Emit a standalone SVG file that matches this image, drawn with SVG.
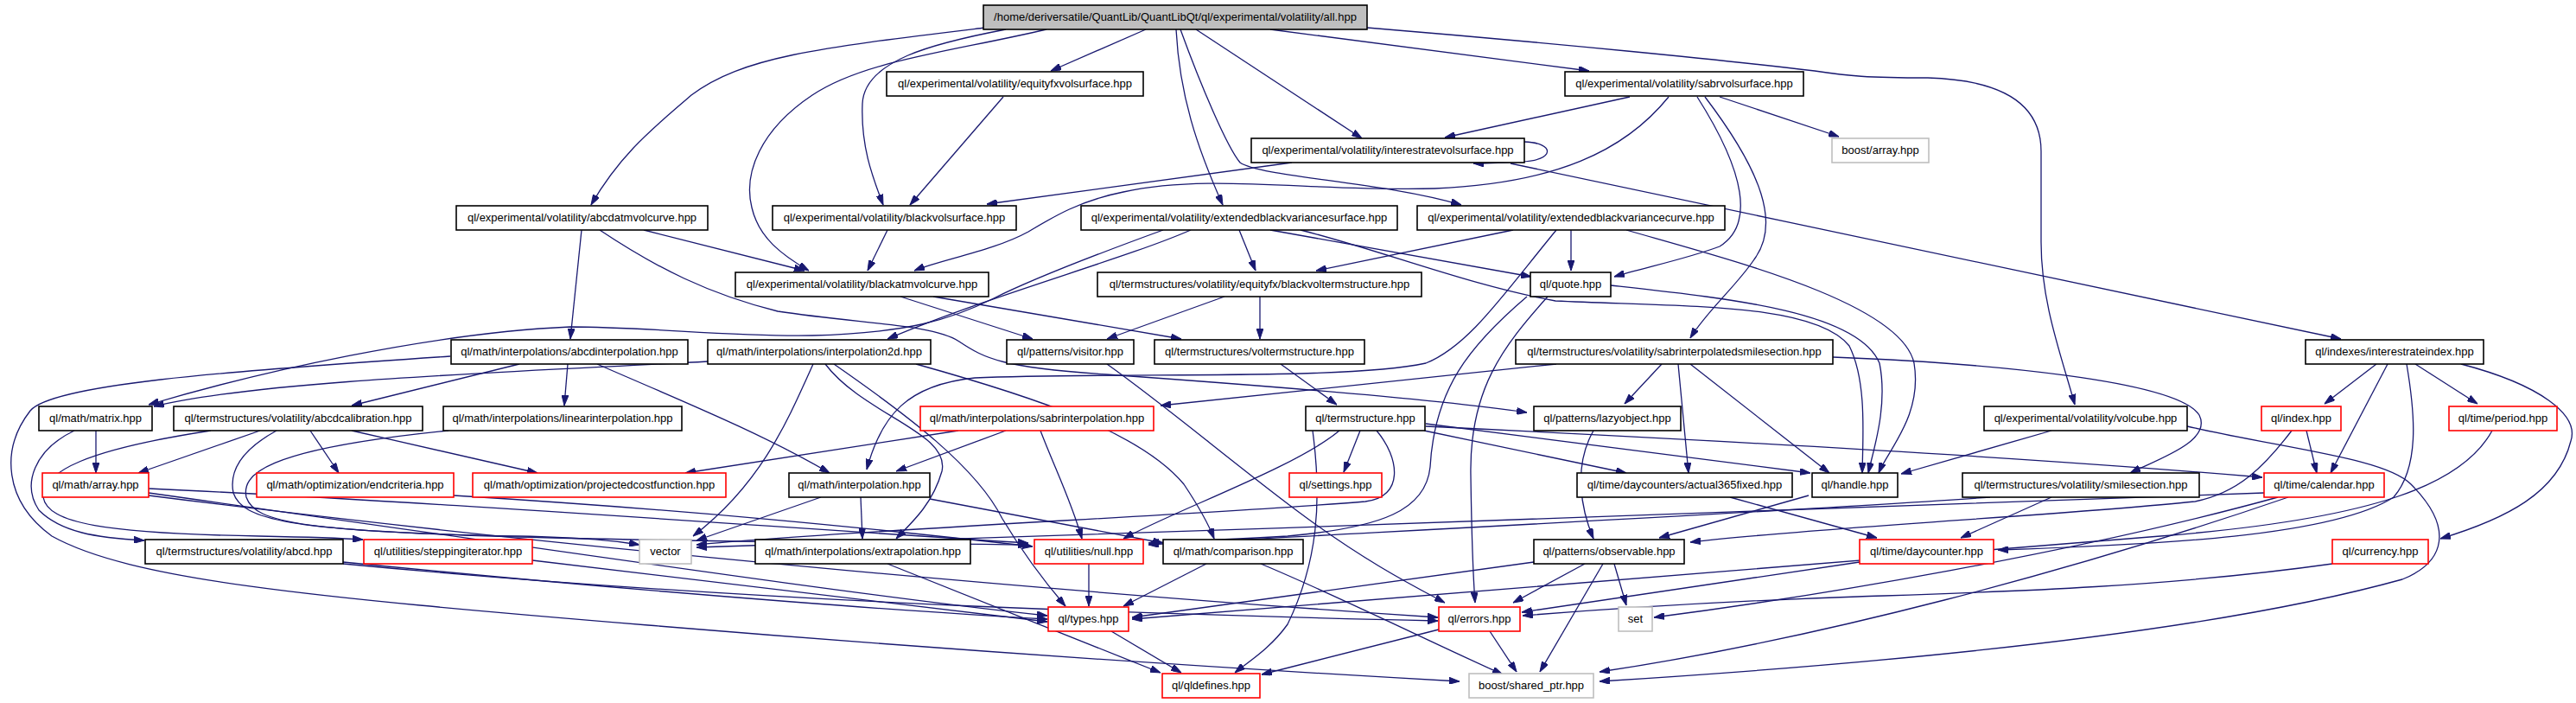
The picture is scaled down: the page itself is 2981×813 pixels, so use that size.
<svg xmlns="http://www.w3.org/2000/svg" width="2981" height="813" viewBox="0 0 2981 813">
<style>
.n rect{fill:#fff;stroke:#000;stroke-width:1.6}
.n.r rect{stroke:#ff0000}
.n.g rect{stroke:#bfbfbf}
.n.root rect{fill:#bfbfbf}
.n text{font-family:"Liberation Sans",Arial,sans-serif;font-size:13px;fill:#000;text-anchor:middle}
.e path{fill:none;stroke:#191970;stroke-width:1.3;marker-end:url(#a)}
</style>
<defs>
<marker id="a" markerWidth="12" markerHeight="8" refX="12" refY="4" orient="auto" markerUnits="userSpaceOnUse"><path d="M0,0 L12,4 L0,8 z" fill="#191970" stroke="#191970" stroke-width="1"/></marker>
</defs>
<rect width="2981" height="813" fill="#fff"/>
<g class="e" id="edges">
<path d="M1140,32 C 950,55 860,65 800,110 C 760,145 720,175 684,237"/>
<path d="M1164,34 C 1080,50 1000,70 998,120 C 996,170 1010,205 1022,237"/>
<path d="M1211,34 C 1100,60 1000,70 940,110 C 880,150 860,200 870,240 C 878,275 905,295 936,313"/>
<path d="M1326,34 L1216,82"/>
<path d="M1361,34 C 1365,110 1385,170 1415,237"/>
<path d="M1384,34 L1576,160"/>
<path d="M1366,34 C 1390,100 1420,170 1435,188 C 1460,205 1600,210 1691,237"/>
<path d="M1470,34 L1839,82"/>
<path d="M1582,32 C 1800,50 2000,70 2100,82 C 2140,88 2160,90 2231,90 C 2300,92 2362,110 2362,175 L2362,280 C 2362,350 2385,410 2401,468"/>
<path d="M1161,112 L1053,237"/>
<path d="M1886,112 L1672,159"/>
<path d="M1931,112 C 1880,175 1800,212 1660,218 C 1520,222 1400,200 1300,222 C 1250,232 1220,250 1190,268 C 1150,290 1090,300 1058,313"/>
<path d="M1964,112 C 2020,200 2030,260 1990,285 C 1950,300 1900,310 1868,320"/>
<path d="M1973,112 C 2040,200 2060,260 2030,300 C 2010,330 1975,360 1956,391"/>
<path d="M1990,112 L2128,158"/>
<path d="M1495,188 L1142,236"/>
<path d="M1764,164 C 1800,165 1800,186 1760,187 C 1740,188 1720,189 1705,189"/>
<path d="M1748,189 L2709,392"/>
<path d="M1027,266 L1004,313"/>
<path d="M1346,266 C 1280,290 1200,320 1150,345 C 1100,370 1050,385 940,388 C 850,390 750,378 660,378 C 500,385 300,430 172,468"/>
<path d="M1378,266 C 1300,300 1150,340 1027,392"/>
<path d="M1434,266 L1453,313"/>
<path d="M1470,266 L1772,320"/>
<path d="M1505,266 C 1600,290 1700,330 1800,348 C 1950,355 2100,350 2140,400 C 2160,440 2156,500 2155,547"/>
<path d="M1751,266 L1523,313"/>
<path d="M1818,266 L1818,313"/>
<path d="M1801,266 C 1740,340 1700,400 1650,420 C 1560,440 1300,430 1128,437 C 1050,445 1020,480 1003,543"/>
<path d="M1882,266 C 2000,300 2200,350 2215,420 C 2225,480 2185,520 2174,547"/>
<path d="M1042,343 L1195,392"/>
<path d="M1080,343 L1367,392"/>
<path d="M1417,343 L1281,392"/>
<path d="M1458,343 L1458,392"/>
<path d="M1482,421 L1547,468"/>
<path d="M745,266 L931,313"/>
<path d="M673,266 L660,392"/>
<path d="M694,266 C 760,310 820,340 900,360 C 1000,375 1080,375 1110,395 C 1140,415 1160,425 1280,433 C 1450,445 1650,460 1767,477"/>
<path d="M601,421 L407,469"/>
<path d="M657,421 L653,469"/>
<path d="M691,421 C 780,460 880,500 960,547"/>
<path d="M521,412 C 250,430 60,445 35,475 C 0,520 5,580 60,620 C 150,670 350,690 750,723 C 1100,752 1400,772 1689,788"/>
<path d="M819,418 C 600,430 300,440 178,470"/>
<path d="M86,498 C 40,520 25,560 45,590 C 70,615 110,622 167,625"/>
<path d="M111,498 L111,547"/>
<path d="M244,498 C 100,520 50,545 50,575 C 55,605 120,617 300,620 C 350,621 390,622 420,624"/>
<path d="M301,498 L160,547"/>
<path d="M359,498 L392,547"/>
<path d="M407,498 L622,547"/>
<path d="M320,498 C 280,520 265,545 270,570 C 280,600 330,615 600,620 C 680,622 710,625 740,630"/>
<path d="M519,498 C 300,520 280,550 285,575 C 295,605 350,615 640,622 C 900,628 1050,628 1190,630"/>
<path d="M1109,498 L793,547"/>
<path d="M1164,498 L1037,545"/>
<path d="M1204,498 C 1220,540 1240,580 1252,623"/>
<path d="M1801,421 L1343,469"/>
<path d="M1923,421 L1880,467"/>
<path d="M1942,421 L1954,547"/>
<path d="M1956,421 L2117,547"/>
<path d="M2121,413 C 2300,420 2520,440 2545,480 C 2560,510 2500,530 2465,547"/>
<path d="M1574,498 L1555,546"/>
<path d="M1648,498 L1882,547"/>
<path d="M1650,490 L2095,547"/>
<path d="M1650,493 C 1900,505 2300,525 2618,552"/>
<path d="M1550,498 C 1500,540 1360,590 1300,623"/>
<path d="M1593,498 C 1620,530 1625,575 1580,580 C 1400,595 1000,612 806,630"/>
<path d="M1767,343 C 1700,400 1660,450 1655,540 C 1650,590 1600,610 1490,620 C 1420,624 1370,626 1329,628"/>
<path d="M1791,343 C 1740,400 1700,450 1702,550 C 1703,620 1705,670 1707,697"/>
<path d="M1864,330 C 2000,345 2150,360 2175,420 C 2185,470 2168,520 2162,547"/>
<path d="M1281,421 C 1350,470 1420,530 1500,590 C 1580,650 1640,680 1672,697"/>
<path d="M941,421 C 910,490 880,560 802,620"/>
<path d="M955,421 C 1000,480 1100,500 1090,545 C 1080,580 1060,600 1037,623"/>
<path d="M965,421 C 1050,480 1130,540 1160,600 C 1190,650 1215,680 1233,701"/>
<path d="M1060,421 C 1200,460 1320,500 1370,560 C 1390,590 1400,610 1405,623"/>
<path d="M950,575 L806,625"/>
<path d="M996,575 L998,623"/>
<path d="M1076,577 L1346,628"/>
<path d="M1844,498 C 1820,540 1830,590 1844,623"/>
<path d="M2093,573 L1920,622"/>
<path d="M2374,498 L2200,548"/>
<path d="M2002,575 L2172,622"/>
<path d="M2374,575 L2269,622"/>
<path d="M2303,575 C 2100,590 1600,615 1329,630"/>
<path d="M2652,498 C 2620,540 2590,570 2540,580 C 2400,595 2100,610 1956,627"/>
<path d="M2531,493 C 2650,520 2760,530 2790,560 C 2840,610 2830,650 2780,670 C 2600,720 2300,760 1851,788"/>
<path d="M2750,421 L2690,467"/>
<path d="M2763,421 L2697,547"/>
<path d="M2795,421 L2867,467"/>
<path d="M2785,421 C 2795,480 2800,540 2770,575 C 2700,620 2500,630 2312,636"/>
<path d="M2848,421 C 2940,445 2985,480 2975,510 C 2960,570 2900,600 2824,623"/>
<path d="M2669,498 L2681,547"/>
<path d="M2884,498 C 2850,560 2750,600 2500,620 C 2000,660 1500,700 1310,716"/>
<path d="M2620,570 C 2200,590 1400,612 806,633"/>
<path d="M2636,575 C 2400,640 2100,690 1914,714"/>
<path d="M2648,575 C 2400,660 2100,740 1851,777"/>
<path d="M2152,650 L1761,708"/>
<path d="M2699,652 C 2500,680 2300,685 2150,690 C 2000,695 1850,705 1762,712"/>
<path d="M1834,652 L1751,697"/>
<path d="M1868,652 L1882,700"/>
<path d="M1855,652 L1782,777"/>
<path d="M1775,650 L1310,714"/>
<path d="M1459,652 C 1550,690 1650,740 1739,780"/>
<path d="M1260,652 L1260,701"/>
<path d="M1396,652 L1300,701"/>
<path d="M172,565 C 500,580 900,610 1190,628"/>
<path d="M172,570 C 600,630 1000,690 1212,712"/>
<path d="M172,573 C 700,640 1300,690 1664,714"/>
<path d="M525,573 C 800,590 1000,610 1195,632"/>
<path d="M397,650 C 800,690 1100,710 1212,716"/>
<path d="M397,652 C 900,700 1400,712 1664,718"/>
<path d="M616,648 C 900,680 1100,705 1212,719"/>
<path d="M1724,730 L1755,777"/>
<path d="M1027,652 L1343,778"/>
<path d="M1286,730 L1367,778"/>
<path d="M1665,728 L1460,780"/>
<path d="M1519,498 C 1530,580 1525,650 1490,722 C 1470,750 1445,765 1429,778"/>
</g>
<g class="n root" id="n_root"><rect x="1138" y="6" width="444" height="28"/><text x="1360" y="24">/home/deriversatile/QuantLib/QuantLibQt/ql/experimental/volatility/all.hpp</text></g>
<g class="n" id="n_equityfxvolsurface"><rect x="1026" y="83" width="297" height="28"/><text x="1174.5" y="101">ql/experimental/volatility/equityfxvolsurface.hpp</text></g>
<g class="n" id="n_sabrvolsurface"><rect x="1811" y="83" width="276" height="28"/><text x="1949" y="101">ql/experimental/volatility/sabrvolsurface.hpp</text></g>
<g class="n" id="n_interestratevolsurface"><rect x="1448" y="160" width="316" height="28"/><text x="1606" y="178">ql/experimental/volatility/interestratevolsurface.hpp</text></g>
<g class="n g" id="n_boostarray"><rect x="2120" y="160" width="112" height="28"/><text x="2176" y="178">boost/array.hpp</text></g>
<g class="n" id="n_abcdatmvolcurve"><rect x="528" y="238" width="291" height="28"/><text x="673.5" y="256">ql/experimental/volatility/abcdatmvolcurve.hpp</text></g>
<g class="n" id="n_blackvolsurface"><rect x="894" y="238" width="282" height="28"/><text x="1035" y="256">ql/experimental/volatility/blackvolsurface.hpp</text></g>
<g class="n" id="n_extbvs"><rect x="1251" y="238" width="366" height="28"/><text x="1434" y="256">ql/experimental/volatility/extendedblackvariancesurface.hpp</text></g>
<g class="n" id="n_extbvc"><rect x="1640" y="238" width="356" height="28"/><text x="1818" y="256">ql/experimental/volatility/extendedblackvariancecurve.hpp</text></g>
<g class="n" id="n_blackatmvolcurve"><rect x="851" y="315" width="293" height="28"/><text x="997.5" y="333">ql/experimental/volatility/blackatmvolcurve.hpp</text></g>
<g class="n" id="n_blackvoltermstructure"><rect x="1270" y="315" width="375" height="28"/><text x="1457.5" y="333">ql/termstructures/volatility/equityfx/blackvoltermstructure.hpp</text></g>
<g class="n" id="n_quote"><rect x="1771" y="315" width="93" height="28"/><text x="1817.5" y="333">ql/quote.hpp</text></g>
<g class="n" id="n_abcdinterpolation"><rect x="522" y="393" width="274" height="28"/><text x="659" y="411">ql/math/interpolations/abcdinterpolation.hpp</text></g>
<g class="n" id="n_interpolation2d"><rect x="819" y="393" width="258" height="28"/><text x="948" y="411">ql/math/interpolations/interpolation2d.hpp</text></g>
<g class="n" id="n_visitor"><rect x="1165" y="393" width="147" height="28"/><text x="1238.5" y="411">ql/patterns/visitor.hpp</text></g>
<g class="n" id="n_voltermstructure"><rect x="1336" y="393" width="243" height="28"/><text x="1457.5" y="411">ql/termstructures/voltermstructure.hpp</text></g>
<g class="n" id="n_sabrinterpsmile"><rect x="1754" y="393" width="367" height="28"/><text x="1937.5" y="411">ql/termstructures/volatility/sabrinterpolatedsmilesection.hpp</text></g>
<g class="n" id="n_interestrateindex"><rect x="2668" y="393" width="206" height="28"/><text x="2771" y="411">ql/indexes/interestrateindex.hpp</text></g>
<g class="n" id="n_matrix"><rect x="45" y="470" width="131" height="28"/><text x="110.5" y="488">ql/math/matrix.hpp</text></g>
<g class="n" id="n_abcdcalibration"><rect x="201" y="470" width="288" height="28"/><text x="345" y="488">ql/termstructures/volatility/abcdcalibration.hpp</text></g>
<g class="n" id="n_linearinterpolation"><rect x="513" y="470" width="276" height="28"/><text x="651" y="488">ql/math/interpolations/linearinterpolation.hpp</text></g>
<g class="n r" id="n_sabrinterpolation"><rect x="1065" y="470" width="270" height="28"/><text x="1200" y="488">ql/math/interpolations/sabrinterpolation.hpp</text></g>
<g class="n" id="n_termstructure"><rect x="1511" y="470" width="138" height="28"/><text x="1580" y="488">ql/termstructure.hpp</text></g>
<g class="n" id="n_lazyobject"><rect x="1775" y="470" width="170" height="28"/><text x="1860" y="488">ql/patterns/lazyobject.hpp</text></g>
<g class="n" id="n_volcube"><rect x="2296" y="470" width="235" height="28"/><text x="2413.5" y="488">ql/experimental/volatility/volcube.hpp</text></g>
<g class="n r" id="n_index"><rect x="2617" y="470" width="92" height="28"/><text x="2663" y="488">ql/index.hpp</text></g>
<g class="n r" id="n_period"><rect x="2834" y="470" width="125" height="28"/><text x="2896.5" y="488">ql/time/period.hpp</text></g>
<g class="n r" id="n_array"><rect x="49" y="547" width="123" height="28"/><text x="110.5" y="565">ql/math/array.hpp</text></g>
<g class="n r" id="n_endcriteria"><rect x="297" y="547" width="228" height="28"/><text x="411" y="565">ql/math/optimization/endcriteria.hpp</text></g>
<g class="n r" id="n_projectedcostfunction"><rect x="547" y="547" width="293" height="28"/><text x="693.5" y="565">ql/math/optimization/projectedcostfunction.hpp</text></g>
<g class="n" id="n_interpolation"><rect x="913" y="547" width="163" height="28"/><text x="994.5" y="565">ql/math/interpolation.hpp</text></g>
<g class="n r" id="n_settings"><rect x="1492" y="547" width="107" height="28"/><text x="1545.5" y="565">ql/settings.hpp</text></g>
<g class="n" id="n_actual365fixed"><rect x="1825" y="547" width="249" height="28"/><text x="1949.5" y="565">ql/time/daycounters/actual365fixed.hpp</text></g>
<g class="n" id="n_handle"><rect x="2097" y="547" width="99" height="28"/><text x="2146.5" y="565">ql/handle.hpp</text></g>
<g class="n" id="n_smilesection"><rect x="2271" y="547" width="274" height="28"/><text x="2408" y="565">ql/termstructures/volatility/smilesection.hpp</text></g>
<g class="n r" id="n_calendar"><rect x="2620" y="547" width="139" height="28"/><text x="2689.5" y="565">ql/time/calendar.hpp</text></g>
<g class="n" id="n_abcd"><rect x="168" y="624" width="229" height="28"/><text x="282.5" y="642">ql/termstructures/volatility/abcd.hpp</text></g>
<g class="n r" id="n_steppingiterator"><rect x="421" y="624" width="195" height="28"/><text x="518.5" y="642">ql/utilities/steppingiterator.hpp</text></g>
<g class="n g" id="n_vector"><rect x="740" y="624" width="60" height="28"/><text x="770" y="642">vector</text></g>
<g class="n" id="n_extrapolation"><rect x="874" y="624" width="249" height="28"/><text x="998.5" y="642">ql/math/interpolations/extrapolation.hpp</text></g>
<g class="n r" id="n_null"><rect x="1197" y="624" width="126" height="28"/><text x="1260" y="642">ql/utilities/null.hpp</text></g>
<g class="n" id="n_comparison"><rect x="1346" y="624" width="162" height="28"/><text x="1427" y="642">ql/math/comparison.hpp</text></g>
<g class="n" id="n_observable"><rect x="1775" y="624" width="174" height="28"/><text x="1862" y="642">ql/patterns/observable.hpp</text></g>
<g class="n r" id="n_daycounter"><rect x="2152" y="624" width="155" height="28"/><text x="2229.5" y="642">ql/time/daycounter.hpp</text></g>
<g class="n r" id="n_currency"><rect x="2699" y="624" width="111" height="28"/><text x="2754.5" y="642">ql/currency.hpp</text></g>
<g class="n r" id="n_types"><rect x="1213" y="702" width="93" height="28"/><text x="1259.5" y="720">ql/types.hpp</text></g>
<g class="n r" id="n_errors"><rect x="1665" y="702" width="94" height="28"/><text x="1712" y="720">ql/errors.hpp</text></g>
<g class="n g" id="n_set"><rect x="1873" y="702" width="39" height="28"/><text x="1892.5" y="720">set</text></g>
<g class="n r" id="n_qldefines"><rect x="1345" y="779" width="113" height="28"/><text x="1401.5" y="797">ql/qldefines.hpp</text></g>
<g class="n g" id="n_sharedptr"><rect x="1700" y="779" width="144" height="28"/><text x="1772" y="797">boost/shared_ptr.hpp</text></g>
</svg>
